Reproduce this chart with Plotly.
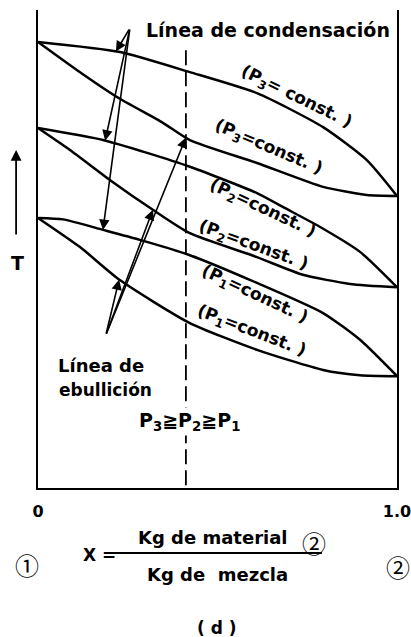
import numpy as np
import plotly.graph_objects as go

# Composition axis: X = kg of component 2 / kg of mixture
# Temperature in arbitrary units (0 at the bottom of the frame, 100 at the top)

# P3 envelope
x_p3_cond = [0.0, 0.228, 0.423, 0.610, 0.794, 0.916, 1.0]
t_p3_cond = [93.3, 91.2, 87.0, 82.6, 75.5, 68.6, 61.1]
x_p3_ebul = [0.0, 0.109, 0.220, 0.348, 0.423, 0.610, 0.794, 0.916, 1.0]
t_p3_ebul = [93.3, 87.4, 81.8, 76.4, 72.8, 68.0, 63.0, 61.3, 61.1]

# P2 envelope
x_p2_cond = [0.0, 0.181, 0.304, 0.423, 0.610, 0.682, 0.786, 0.897, 1.0]
t_p2_cond = [75.3, 72.8, 70.1, 67.2, 61.7, 58.8, 54.6, 49.4, 42.0]
x_p2_ebul = [0.0, 0.089, 0.201, 0.320, 0.423, 0.610, 0.738, 0.869, 1.0]
t_p2_ebul = [75.3, 70.7, 64.4, 58.2, 53.3, 48.3, 44.6, 42.7, 42.0]

# P1 envelope
x_p1_cond = [0.0, 0.070, 0.181, 0.284, 0.423, 0.610, 0.794, 0.897, 1.0]
t_p1_cond = [56.5, 56.2, 54.0, 51.9, 48.7, 42.9, 36.6, 31.0, 23.4]
x_p1_ebul = [0.0, 0.117, 0.228, 0.423, 0.610, 0.794, 0.897, 1.0]
t_p1_ebul = [56.5, 50.4, 43.5, 34.5, 28.9, 24.7, 23.6, 23.4]

x_mezcla = 0.412          # composition marked by the dashed line
x_ticks = [0.0, 1.0]
x_tick_text = ["0", "1.0"]

# where each arrow of the two callouts meets its curve
x_flecha_cond = [0.217, 0.187, 0.181]
x_flecha_ebul = [0.226, 0.320, 0.412]

INK = "black"
FONT = "DejaVu Sans"

fig = go.Figure()

curves = [
    (x_p3_cond, t_p3_cond), (x_p3_ebul, t_p3_ebul),
    (x_p2_cond, t_p2_cond), (x_p2_ebul, t_p2_ebul),
    (x_p1_cond, t_p1_cond), (x_p1_ebul, t_p1_ebul),
]
for xs, ts in curves:
    fig.add_trace(go.Scatter(
        x=xs, y=ts, mode="lines",
        line=dict(color=INK, width=2.5, shape="spline", smoothing=0.6),
        hoverinfo="skip", showlegend=False, cliponaxis=False))

# dashed composition line
fig.add_trace(go.Scatter(
    x=[x_mezcla, x_mezcla], y=[91.6, 0], mode="lines",
    line=dict(color=INK, width=1.8, dash="15px,6px"),
    hoverinfo="skip", showlegend=False))

ann = []

def label(x, y, text, size=17, angle=0, ref="x", weight="bold", family=FONT, **kw):
    d = dict(x=x, y=y, xref="x" if ref == "x" else "paper",
             yref="y" if ref == "x" else "paper", text=text, showarrow=False,
             xanchor="center", yanchor="middle", textangle=angle,
             font=dict(family=family, size=size, color=INK, weight=weight))
    d.update(kw)
    ann.append(d)

def arrow(x0, y0, x1, y1, width=1.6):
    ann.append(dict(x=x1, y=y1, ax=x0, ay=y0, xref="x", yref="y",
                    axref="x", ayref="y", text="", showarrow=True,
                    arrowhead=2, arrowsize=1.3, arrowwidth=width,
                    arrowcolor=INK))

# condensation (dew) lines callout
cond_curves = [(x_p3_cond, t_p3_cond), (x_p2_cond, t_p2_cond), (x_p1_cond, t_p1_cond)]
for xk, (xs, ts) in zip(x_flecha_cond, cond_curves):
    arrow(0.256, 96.2, xk, float(np.interp(xk, xs, ts)))

# boiling (bubble) lines callout
ebul_curves = [(x_p1_ebul, t_p1_ebul), (x_p2_ebul, t_p2_ebul), (x_p3_ebul, t_p3_ebul)]
for xk, (xs, ts) in zip(x_flecha_ebul, ebul_curves):
    arrow(0.189, 32.0, xk, float(np.interp(xk, xs, ts)))

# temperature arrow, left of the frame
ann.append(dict(x=-0.061, y=0.707, xref="paper", yref="paper",
                ax=0, ay=86, axref="pixel", ayref="pixel", text="",
                showarrow=True, arrowhead=2, arrowsize=1.2, arrowwidth=1.8,
                arrowcolor=INK))
label(-0.058, 0.471, "T", size=19, ref="paper")

label(0.641, 95.8, "Línea de condensación", size=19)
label(0.175, 25.7, "Línea de", size=18)
label(0.187, 20.5, "ebullición", size=17)

label(0.721, 81.8, "(P<sub>3</sub>= const. )", angle=26)
label(0.641, 71.3, "(P<sub>3</sub>=const. )", angle=23)
label(0.624, 58.4, "(P<sub>2</sub>=const. )", angle=25)
label(0.599, 50.8, "(P<sub>2</sub>=const. )", angle=20)
label(0.602, 40.4, "(P<sub>1</sub>=const. )", angle=25)
label(0.596, 32.8, "(P<sub>1</sub>=const. )", angle=21)

label(0.423, 14.0, "P<sub>3</sub>≧P<sub>2</sub>≧P<sub>1</sub>", size=19,
      bgcolor="white")

# composition definition below the axis
label(0.170, -0.140, "X =", size=17, ref="paper")
label(0.487, -0.103, "Kg de material", size=18, ref="paper")
label(0.769, -0.113, "②", size=24, ref="paper", family="Noto Sans CJK SC", weight="normal")
label(0.501, -0.180, "Kg de  mezcla", size=18, ref="paper")
label(-0.031, -0.161, "①", size=24, ref="paper", family="Noto Sans CJK SC", weight="normal")
label(1.003, -0.165, "②", size=24, ref="paper", family="Noto Sans CJK SC", weight="normal")
label(0.499, -0.293, "( d )", size=17, ref="paper")

fig.update_layout(
    width=411, height=637,
    margin=dict(l=38, r=14, t=10, b=149),
    paper_bgcolor="white", plot_bgcolor="white",
    annotations=ann,
    shapes=[dict(type="line", xref="paper", yref="paper", x0=0.206, x1=0.791,
                 y0=-0.136, y1=-0.136, line=dict(color=INK, width=1.8))],
    xaxis=dict(range=[0, 1], showgrid=False, zeroline=False, automargin=False,
               showline=True, linecolor=INK, linewidth=2,
               tickvals=x_ticks, ticktext=x_tick_text, ticks="",
               ticklabelstandoff=8, ticklabeloverflow="allow",
               tickfont=dict(family=FONT, size=16, color=INK, weight="bold")),
    yaxis=dict(range=[0, 100], showgrid=False, zeroline=False, automargin=False,
               showline=True, mirror=True, linecolor=INK, linewidth=2,
               showticklabels=False, ticks=""),
)

fig.write_html("out.html")
